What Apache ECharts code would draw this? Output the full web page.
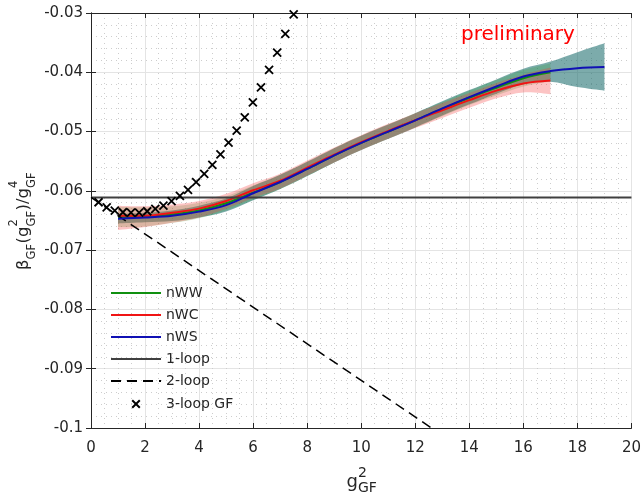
<!DOCTYPE html>
<html>
<head>
<meta charset="utf-8">
<script src="https://cdn.jsdelivr.net/npm/echarts@6/dist/echarts.min.js"></script>
<style>
html,body{margin:0;padding:0;background:#fff;}
#chart{width:644px;height:495px;}
</style>
</head>
<body>
<div id="chart"></div>
<script>
// ---------------- data ----------------
const xTickLabels = ['0','2','4','6','8','10','12','14','16','18','20'];
const yTickLabels = ['-0.1','-0.09','-0.08','-0.07','-0.06','-0.05','-0.04','-0.03'];

const xWW = [1,2,3,4,5,6,7,8,9,10,11,12,13,14,15,16,17];
const yWW = [-0.0644,-0.0644,-0.0640,-0.0633,-0.0621,-0.0603,-0.0585,-0.0563,-0.0540,-0.0519,-0.0500,-0.0481,-0.0462,-0.0443,-0.0426,-0.0410,-0.0400];
const loWW = [-0.0661,-0.0660,-0.0654,-0.0646,-0.0633,-0.0615,-0.0597,-0.0575,-0.0552,-0.0531,-0.0512,-0.0493,-0.0474,-0.0455,-0.0439,-0.0424,-0.0415];
const hiWW = [-0.0627,-0.0628,-0.0626,-0.0620,-0.0609,-0.0591,-0.0573,-0.0551,-0.0528,-0.0507,-0.0488,-0.0469,-0.0450,-0.0431,-0.0413,-0.0396,-0.0385];

const xWC = [1,2,3,4,5,6,7,8,9,10,11,12,13,14,15,16,17];
const yWC = [-0.0642,-0.0642,-0.0637,-0.0630,-0.0617,-0.0599,-0.0583,-0.0561,-0.0539,-0.0518,-0.0499,-0.0481,-0.0464,-0.0447,-0.0431,-0.0419,-0.0414];
const loWC = [-0.0666,-0.0661,-0.0654,-0.0645,-0.0630,-0.0612,-0.0596,-0.0574,-0.0552,-0.0531,-0.0512,-0.0494,-0.0477,-0.0460,-0.0444,-0.0434,-0.0437];
const hiWC = [-0.0625,-0.0626,-0.0623,-0.0617,-0.0605,-0.0587,-0.0571,-0.0549,-0.0527,-0.0506,-0.0487,-0.0469,-0.0452,-0.0435,-0.0418,-0.0404,-0.0392];

const xWS = [1,2,3,4,5,6,7,8,9,10,11,12,13,14,15,16,17,18,19];
const yWS = [-0.0647,-0.0645,-0.0642,-0.0635,-0.0624,-0.0604,-0.0585,-0.0563,-0.0540,-0.0519,-0.0500,-0.0481,-0.0461,-0.0442,-0.0424,-0.0407,-0.0398,-0.0393,-0.0391];
const loWS = [-0.0655,-0.0653,-0.0651,-0.0645,-0.0635,-0.0616,-0.0597,-0.0575,-0.0552,-0.0531,-0.0512,-0.0493,-0.0473,-0.0454,-0.0436,-0.0420,-0.0416,-0.0425,-0.0431];
const hiWS = [-0.0639,-0.0637,-0.0633,-0.0625,-0.0613,-0.0592,-0.0573,-0.0551,-0.0528,-0.0507,-0.0488,-0.0469,-0.0449,-0.0430,-0.0412,-0.0394,-0.0382,-0.0366,-0.0351];

const oneLoopX = [0, 20];
const oneLoopY = [-0.0611, -0.0611];
const twoLoopX = [0, 12.6];
const twoLoopY = [-0.0611, -0.1];

const threeLoopX = [0.28,0.58,0.88,1.18,1.48,1.78,2.08,2.38,2.68,2.98,3.29,3.59,3.89,4.19,4.49,4.79,5.09,5.39,5.69,5.99,6.29,6.59,6.89,7.19,7.50];
const threeLoopY = [-0.06192,-0.06277,-0.06334,-0.06361,-0.06368,-0.06368,-0.06344,-0.06305,-0.06250,-0.06175,-0.06086,-0.05985,-0.05853,-0.05715,-0.05563,-0.05383,-0.05187,-0.04985,-0.04759,-0.04509,-0.04253,-0.03961,-0.03670,-0.03354,-0.03022];

// ---------------- helpers ----------------
const FONT = '"DejaVu Sans", sans-serif';
const TXT = '#262626';
const SMOOTH = 0.35;
const zip = (xs, ys) => xs.map((x, i) => [x, ys[i]]);

// smooth path through pixel points (Catmull-Rom style bezier)
function smoothSeg(pts, first) {
  let d = first ? 'M' + pts[0][0] + ',' + pts[0][1] : 'L' + pts[0][0] + ',' + pts[0][1];
  const k = SMOOTH * 0.5;
  for (let i = 0; i < pts.length - 1; i++) {
    const p0 = pts[Math.max(i - 1, 0)], p1 = pts[i], p2 = pts[i + 1], p3 = pts[Math.min(i + 2, pts.length - 1)];
    const c1 = [p1[0] + (p2[0] - p0[0]) * k, p1[1] + (p2[1] - p0[1]) * k];
    const c2 = [p2[0] - (p3[0] - p1[0]) * k, p2[1] - (p3[1] - p1[1]) * k];
    d += 'C' + c1[0] + ',' + c1[1] + ',' + c2[0] + ',' + c2[1] + ',' + p2[0] + ',' + p2[1];
  }
  return d;
}

function band(name, xs, lo, hi, color) {
  return {
    type: 'custom', name: name, silent: true, clip: true, z: 1,
    data: xs.map((x, i) => [x, lo[i], hi[i]]),
    encode: { x: 0, y: [1, 2] },
    renderItem: function (params, api) {
      if (params.dataIndex !== 0) return null;
      const up = xs.map((x, i) => api.coord([x, hi[i]]));
      const dn = xs.map((x, i) => api.coord([x, lo[i]])).reverse();
      const d = smoothSeg(up, true) + smoothSeg(dn, false) + 'Z';
      return { type: 'path', shape: { pathData: d }, style: { fill: color } };
    }
  };
}

const mctx = document.createElement('canvas').getContext('2d');
function tw(t, fs) { mctx.font = fs + 'px "DejaVu Sans"'; return mctx.measureText(t).width; }
function scriptText(parts, mainFs, smallFs, supDy, subDy) {
  const children = []; let x = 0;
  parts.forEach(p => {
    if (p.t) {
      children.push({ type: 'text', x: x, y: 0, style: { text: p.t, font: mainFs + 'px ' + FONT, fill: TXT, align: 'left', verticalAlign: 'middle' } });
      x += tw(p.t, mainFs);
    } else {
      let w = 0;
      if (p.sup) { children.push({ type: 'text', x: x, y: supDy, style: { text: p.sup, font: smallFs + 'px ' + FONT, fill: TXT, align: 'left', verticalAlign: 'middle' } }); w = Math.max(w, tw(p.sup, smallFs)); }
      if (p.sub) { children.push({ type: 'text', x: x, y: subDy, style: { text: p.sub, font: smallFs + 'px ' + FONT, fill: TXT, align: 'left', verticalAlign: 'middle' } }); w = Math.max(w, tw(p.sub, smallFs)); }
      x += w + 0.5;
    }
  });
  return { children: children, width: x };
}

const yName = scriptText([{ t: 'β' }, { sub: 'GF' }, { t: '(g' }, { sup: '2', sub: 'GF' }, { t: ')/g' }, { sup: '4', sub: 'GF' }], 16.5, 11.5, -9.5, 8.5);
const xName = scriptText([{ t: 'g' }, { sup: '2', sub: 'GF' }], 18, 14, -9, 6);

// ---------------- chart ----------------
const chart = echarts.init(document.getElementById('chart'), null, { renderer: 'canvas' });
const gridLeft = 91, gridTop = 13, gridRight = 10, gridBottom = 67;

const axisCommon = {
  axisLine: { show: true, lineStyle: { color: TXT, width: 1 } },
  axisTick: { show: true, inside: true, length: 5, lineStyle: { color: TXT } },
};
const noSym = { color: 'rgba(0,0,0,0)', borderColor: 'rgba(0,0,0,0)', borderWidth: 0 };

const option = {
  animation: false,
  backgroundColor: '#ffffff',
  grid: { left: gridLeft, top: gridTop, right: gridRight, bottom: gridBottom, containLabel: false },
  xAxis: [
    Object.assign({
      type: 'value', min: 0, max: 20, interval: 2, position: 'bottom',
      axisLabel: { margin: 13, color: TXT, fontFamily: FONT, fontSize: 15,
        formatter: v => xTickLabels[Math.round(v / 2)] },
      splitLine: { show: true, lineStyle: { color: '#e4e4e4', width: 1 } },
      minorTick: { show: false, splitNumber: 4 },
      minorSplitLine: { show: true, lineStyle: { color: '#cdcdcd', width: 1, type: [1, 4] } }
    }, axisCommon),
    Object.assign({
      type: 'value', min: 0, max: 20, interval: 2, position: 'top',
      axisLabel: { show: false }, splitLine: { show: false }
    }, axisCommon)
  ],
  yAxis: [
    Object.assign({
      type: 'value', min: -0.1, max: -0.03, interval: 0.01, position: 'left',
      axisLabel: { margin: 8, color: TXT, fontFamily: FONT, fontSize: 15,
        formatter: v => yTickLabels[Math.round((v + 0.1) / 0.01)] },
      splitLine: { show: true, lineStyle: { color: '#e4e4e4', width: 1 } },
      minorTick: { show: false, splitNumber: 5 },
      minorSplitLine: { show: true, lineStyle: { color: '#cdcdcd', width: 1, type: [1, 4] } }
    }, axisCommon),
    Object.assign({
      type: 'value', min: -0.1, max: -0.03, interval: 0.01, position: 'right',
      axisLabel: { show: false }, splitLine: { show: false }
    }, axisCommon)
  ],
  legend: {
    orient: 'vertical', left: 110, top: 286, itemWidth: 50, itemHeight: 14, itemGap: 8, padding: 0,
    textStyle: { fontFamily: FONT, fontSize: 14, color: TXT },
    data: [
      { name: 'nWW', itemStyle: noSym },
      { name: 'nWC', itemStyle: noSym },
      { name: 'nWS', itemStyle: noSym },
      { name: '1-loop', itemStyle: noSym },
      { name: '2-loop', itemStyle: noSym },
      { name: '3-loop GF', icon: 'path://M0,0M14,14M3.2,3.2L10.8,10.8M10.8,3.2L3.2,10.8' }
    ]
  },
  graphic: [
    { type: 'text', left: 461, top: 25, z: 100, style: { text: 'preliminary', font: '20px ' + FONT, fill: '#ff0000' } },
    { type: 'group', x: 24, y: 221 + yName.width / 2, rotation: Math.PI / 2, z: 100, children: yName.children },
    { type: 'group', x: 362 - xName.width / 2, y: 482, z: 100, children: xName.children }
  ],
  series: [
    band('nWS band', xWS, loWS, hiWS, 'rgba(30,110,110,0.58)'),
    band('nWW band', xWW, loWW, hiWW, 'rgba(40,160,40,0.22)'),
    band('nWC band', xWC, loWC, hiWC, 'rgba(245,60,60,0.3)'),
    { type: 'line', name: 'nWW', data: zip(xWW, yWW), symbol: 'none', smooth: SMOOTH, z: 3,
      lineStyle: { color: '#109010', width: 2 }, itemStyle: { color: '#109010' } },
    { type: 'line', name: 'nWC', data: zip(xWC, yWC), symbol: 'none', smooth: SMOOTH, z: 3,
      lineStyle: { color: '#f01414', width: 2 }, itemStyle: { color: '#f01414' } },
    { type: 'line', name: 'nWS', data: zip(xWS, yWS), symbol: 'none', smooth: SMOOTH, z: 4,
      lineStyle: { color: '#1010b4', width: 2 }, itemStyle: { color: '#1010b4' } },
    { type: 'line', name: '1-loop', data: zip(oneLoopX, oneLoopY), symbol: 'none', z: 3,
      lineStyle: { color: '#404040', width: 2 }, itemStyle: { color: '#404040' } },
    { type: 'line', name: '2-loop', data: zip(twoLoopX, twoLoopY), symbol: 'none', z: 3, clip: true,
      lineStyle: { color: '#000000', width: 1.5, type: [10, 6] }, itemStyle: { color: '#000000' } },
    { type: 'scatter', name: '3-loop GF', data: zip(threeLoopX, threeLoopY), z: 5,
      symbol: 'path://M0,0L10,10M10,0L0,10', symbolSize: 8, symbolKeepAspect: true,
      itemStyle: { color: 'rgba(0,0,0,0)', borderColor: '#000000', borderWidth: 1.8, opacity: 1 } }
  ]
};
chart.setOption(option);
</script>
</body>
</html>
